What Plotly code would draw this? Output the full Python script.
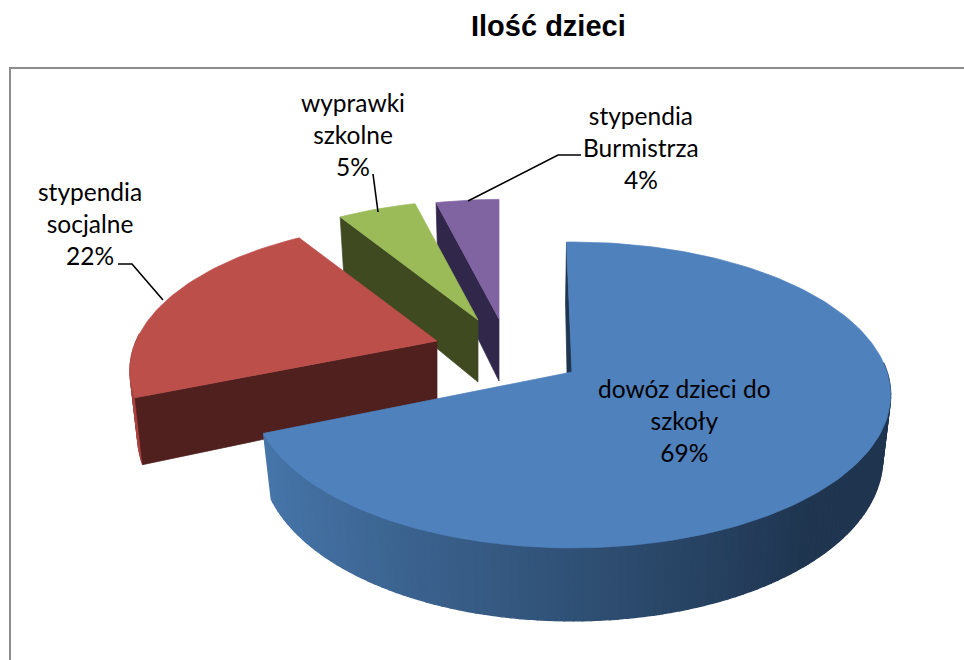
import math
import plotly.graph_objects as go

title = "Ilość dzieci"
categories = ["dowóz dzieci do<br>szkoły", "stypendia<br>socjalne", "wyprawki<br>szkolne", "stypendia<br>Burmistrza"]
values = [69, 22, 5, 4]
top_colors = ["#4f81bd", "#bd4f4b", "#9bbb59", "#8064a2"]
wall_colors = ["#1f3550", "#a8433f", "#3f4a21", "#31274a"]
cut_colors = ["#1f3550", "#4f201e", "#3f4a21", "#31274a"]

# placement of each exploded slice: apex x, apex y, scale, rotation, perspective
placement = [(572, 372, 1.0, -0.02, 0.15), (437, 341, 0.955, 0.0, 0.2),
             (478, 320, 0.92, 0.0, 0.15), (499, 319, 0.92, 0.0, 0.15)]
A, B, DEPTH, NARROW = 315, 149.5, 62, 0.025


def project(theta, apex, drop=0.0):
    theta = theta + apex[3]
    u, v = math.sin(theta), math.cos(theta)
    s = 1 / (1 + apex[4] * v)
    ax, ay, sc = apex[:3]
    shrink = 1 - NARROW * drop / DEPTH
    return ax + A * u * s * sc * shrink, ay - B * v * s * sc + drop * s


def mix(c1, c2, t):
    a = [int(c1[i:i + 2], 16) for i in (1, 3, 5)]
    b = [int(c2[i:i + 2], 16) for i in (1, 3, 5)]
    return "rgb(%d,%d,%d)" % tuple(round(p + (q - p) * t) for p, q in zip(a, b))


def poly(pts, color, width=0.7):
    return go.Scatter(
        x=[p[0] for p in pts] + [pts[0][0]], y=[p[1] for p in pts] + [pts[0][1]],
        mode="lines", fill="toself", fillcolor=color,
        line=dict(color=color, width=width), hoverinfo="skip", showlegend=False)


fig = go.Figure()
total = sum(values)
start = 0.0
spans = []
for val in values:
    spans.append((start, start + val / total * 2 * math.pi))
    start = spans[-1][1]

for i in [3, 2, 1, 0]:
    t0, t1 = spans[i]
    ap = placement[i]
    n = max(8, int((t1 - t0) * 40))
    ths = [t0 + (t1 - t0) * k / n for k in range(n + 1)]
    # outer wall, shaded segment by segment
    for k in range(n):
        a, b = ths[k], ths[k + 1]
        mid = (a + b) / 2 + ap[3]
        if math.cos(mid) > 0.05:
            continue
        if i == 0:
            t = min(1, max(0, (math.sin(mid) * -0.62 + 0.42)))
            col = mix("#1f3550", "#4776aa", t)
        else:
            col = wall_colors[i]
        fig.add_trace(poly([project(a, ap), project(b, ap), project(b, ap, DEPTH), project(a, ap, DEPTH)], col, 1.4))
    # cut faces
    apex_low = (ap[0], ap[1] + DEPTH)
    if i == 0:
        e = project(t0, ap)
        fig.add_trace(poly([(ap[0], ap[1] + 1), e, (e[0] - 1, e[1] + 60), (ap[0] - 5, ap[1] + 1)], cut_colors[i]))
    else:
        fig.add_trace(poly([(ap[0], ap[1]), project(t0, ap), project(t0, ap, DEPTH), apex_low], cut_colors[i]))
    # top face
    fig.add_trace(poly([(ap[0], ap[1])] + [project(t, ap) for t in ths], top_colors[i]))

# frame
fig.add_shape(type="rect", x0=10, y0=68, x1=990, y1=700, line=dict(color="#8c8c8c", width=2), layer="below")

# leader lines
leaders = [([118, 132, 163], [264, 264, 300]), ([373, 378], [174, 212]), ([581, 558, 468], [155, 155, 201])]
for lx, ly in leaders:
    fig.add_trace(go.Scatter(x=lx, y=ly, mode="lines", line=dict(color="black", width=1.6),
                             hoverinfo="skip", showlegend=False))

# labels
label_pos = [(684, 420), (90, 223), (353, 134), (641, 147)]
for cat, val, (x, y) in zip(categories, values, label_pos):
    fig.add_annotation(x=x, y=y, text=f"{cat}<br>{val}%", showarrow=False, xanchor="center", yanchor="middle",
                       font=dict(family="Lato", size=24.5, color="black"))
fig.add_annotation(x=548, y=26, text=f"<b>{title}</b>", showarrow=False, xanchor="center", yanchor="middle",
                   font=dict(family="Liberation Sans", size=29, color="black"))

fig.update_layout(
    width=964, height=660, margin=dict(l=0, r=0, t=0, b=0), paper_bgcolor="white", plot_bgcolor="white",
    xaxis=dict(range=[0, 964], visible=False, fixedrange=True),
    yaxis=dict(range=[660, 0], visible=False, fixedrange=True),
    showlegend=False)
fig.write_html("out.html", config={"displayModeBar": False},
               post_script="document.body.style.margin='0';document.body.style.overflow='hidden';")
